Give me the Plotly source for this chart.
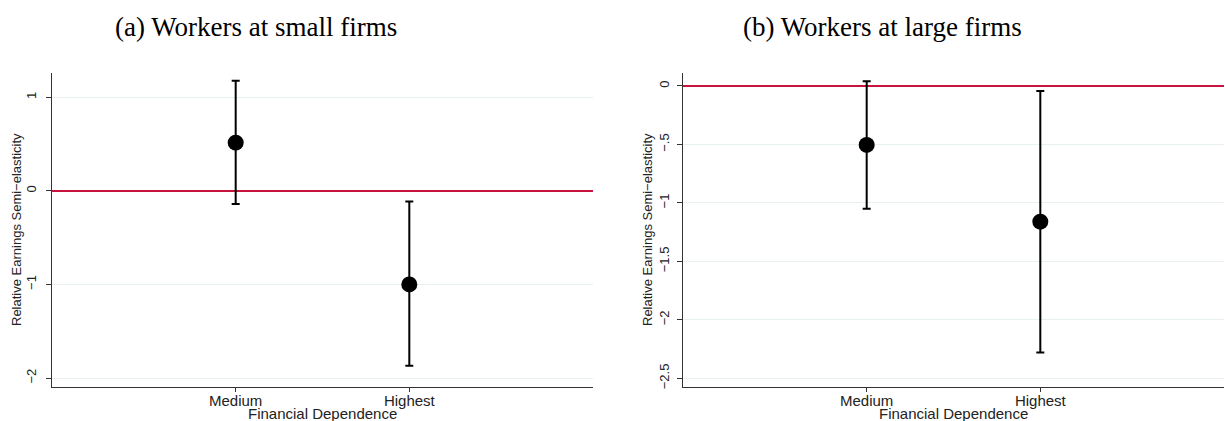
import plotly.graph_objects as go

categories = ["Medium", "Highest"]
cat_pos = [1, 2]

small_est = [0.515, -1.0]
small_lo = [-0.141, -1.87]
small_hi = [1.178, -0.113]

large_est = [-0.504, -1.16]
large_lo = [-1.05, -2.28]
large_hi = [0.04, -0.043]

small_ticks = [1, 0, -1, -2]
small_ticktext = ["1", "0", "\u22121", "\u22122"]
large_ticks = [0, -0.5, -1, -1.5, -2, -2.5]
large_ticktext = ["0", "\u2212.5", "\u22121", "\u22121.5", "\u22122", "\u22122.5"]

titles = ["(a) Workers at small firms", "(b) Workers at large firms"]
ytitle = "Relative Earnings Semi\u2212elasticity"
xtitle = "Financial Dependence"

W, H = 1225, 421

fig = go.Figure()

def add_panel(est, lo, hi, xa, ya):
    fig.add_trace(go.Scatter(
        x=cat_pos, y=est, mode="markers",
        marker=dict(color="black", size=16, symbol="circle"),
        error_y=dict(type="data", symmetric=False,
                     array=[h - e for h, e in zip(hi, est)],
                     arrayminus=[e - l for e, l in zip(est, lo)],
                     color="black", thickness=2, width=4),
        xaxis=xa, yaxis=ya, showlegend=False, hoverinfo="skip"))

add_panel(small_est, small_lo, small_hi, "x", "y")
add_panel(large_est, large_lo, large_hi, "x2", "y2")

ydom = [1 - 387 / H, 1 - 73 / H]
xdom1 = [52 / W, 593 / W]
xdom2 = [683 / W, 1224 / W]

sans = "Liberation Sans, Arial, sans-serif"
xtick_font = dict(family=sans, size=15, color="#222")
ytick_font = dict(family=sans, size=13, color="#222")

common_x = dict(
    tickmode="array", tickvals=cat_pos, ticktext=categories,
    range=[-0.058, 3.058], showgrid=False, zeroline=False,
    showline=True, linecolor="#333", linewidth=1.2,
    ticks="outside", ticklen=4, tickcolor="#333", tickfont=xtick_font,
    ticklabelstandoff=-4,
)
common_y = dict(
    showgrid=True, gridcolor="#e8f0f0", gridwidth=1,
    zeroline=True, zerolinecolor="#c8143c", zerolinewidth=2,
    showline=True, linecolor="#333", linewidth=1.2,
    ticks="outside", ticklen=5, tickcolor="#333", tickfont=ytick_font,
    tickangle=-90, domain=ydom,
)

fig.update_layout(
    width=W, height=H, template="none",
    paper_bgcolor="white", plot_bgcolor="white",
    margin=dict(l=0, r=0, t=0, b=0),
    hovermode=False,
    xaxis=dict(domain=xdom1, anchor="y", **common_x),
    xaxis2=dict(domain=xdom2, anchor="y2", **common_x),
    yaxis=dict(anchor="x", range=[-2.096, 1.26], tickmode="array",
               tickvals=small_ticks, ticktext=small_ticktext,
               ticklabelstandoff=5, **common_y),
    yaxis2=dict(anchor="x2", range=[-2.574, 0.111], tickmode="array",
                tickvals=large_ticks, ticktext=large_ticktext,
                ticklabelstandoff=3, **common_y),
)

title_font = dict(family="Liberation Serif, Times New Roman, serif", size=27, color="black")
for txt, cx in zip(titles, [256, 882]):
    fig.add_annotation(text=txt, x=cx / W, y=1 - 27 / H, xref="paper", yref="paper",
                       showarrow=False, font=title_font, xanchor="center", yanchor="middle")

# axis titles
for cx in [322.5, 953.5]:
    fig.add_annotation(text=xtitle, x=cx / W, y=1 - 413 / H, xref="paper", yref="paper",
                       showarrow=False, font=xtick_font, xanchor="center", yanchor="middle")
for cx in [16, 647]:
    fig.add_annotation(text=ytitle, x=cx / W, y=1 - 230 / H, xref="paper", yref="paper",
                       showarrow=False, font=ytick_font, textangle=-90,
                       xanchor="center", yanchor="middle")

fig.write_html("out.html", config={"displayModeBar": False, "staticPlot": True})

with open("out.html", "r", encoding="utf-8") as f:
    html = f.read()
html = html.replace("<head>", "<head><style>html,body{margin:0;padding:0;overflow:hidden;}</style>", 1)
with open("out.html", "w", encoding="utf-8") as f:
    f.write(html)
